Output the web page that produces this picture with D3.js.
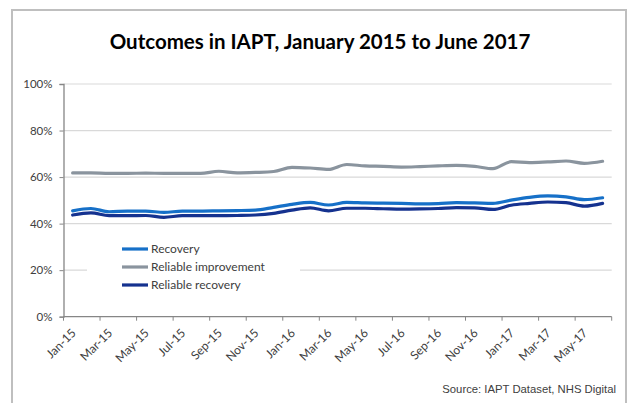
<!DOCTYPE html>
<html>
<head>
<meta charset="utf-8">
<script src="https://cdn.jsdelivr.net/npm/d3@7"></script>
<style>
  html, body { margin: 0; padding: 0; background: #fff; }
  svg { display: block; }
</style>
</head>
<body>
<svg id="chart" width="632" height="403"></svg>
<script>
// ---- data ----
const months = ["Jan-15","Feb-15","Mar-15","Apr-15","May-15","Jun-15","Jul-15","Aug-15","Sep-15","Oct-15","Nov-15","Dec-15",
                "Jan-16","Feb-16","Mar-16","Apr-16","May-16","Jun-16","Jul-16","Aug-16","Sep-16","Oct-16","Nov-16","Dec-16",
                "Jan-17","Feb-17","Mar-17","Apr-17","May-17","Jun-17"];
const recovery = [45.5, 46.5, 45.1, 45.4, 45.4, 44.8, 45.4, 45.4, 45.5, 45.6, 45.8, 47.0,
                  48.3, 49.1, 48.0, 49.1, 48.9, 48.8, 48.7, 48.5, 48.6, 49.0, 48.9, 48.7,
                  50.1, 51.3, 51.9, 51.5, 50.3, 51.1];
const reliableImprovement = [61.8, 61.8, 61.6, 61.6, 61.7, 61.6, 61.6, 61.6, 62.5, 61.8, 62.0, 62.4,
                             64.2, 63.9, 63.3, 65.4, 64.8, 64.6, 64.3, 64.5, 64.8, 65.0, 64.6, 63.6,
                             66.6, 66.2, 66.5, 66.9, 65.9, 66.8];
const reliableRecovery = [43.7, 44.6, 43.4, 43.4, 43.5, 42.7, 43.4, 43.4, 43.4, 43.5, 43.7, 44.4,
                          45.8, 46.8, 45.5, 46.6, 46.6, 46.4, 46.2, 46.3, 46.5, 46.9, 46.8, 46.1,
                          47.9, 48.7, 49.3, 49.0, 47.5, 48.7];
const yTicks = [0, 20, 40, 60, 80, 100];
const xTickLabels = months.filter((m, i) => i % 2 === 0);
const seriesNames = ["Recovery", "Reliable improvement", "Reliable recovery"];
const seriesColors = ["#1670c8", "#8a949e", "#15328f"];
const title = "Outcomes in IAPT, January 2015 to June 2017";
const source = "Source: IAPT Dataset, NHS Digital";

// ---- layout ----
const svg = d3.select("#chart");
const plot = { left: 63.5, right: 611.7, top: 84, bottom: 316.7 };

// outer frame
svg.append("rect").attr("x", 12).attr("y", 10).attr("width", 614).attr("height", 420)
  .attr("fill", "none").attr("stroke", "#bfbfbf").attr("stroke-width", 2);

svg.append("text").attr("x", 320).attr("y", 49).attr("text-anchor", "middle")
  .attr("font-family", "Lato, sans-serif").attr("font-weight", "bold").attr("font-size", 20.5)
  .attr("fill", "#000").text(title);

const x = d3.scaleBand().domain(months).range([plot.left, plot.right]).paddingInner(0).paddingOuter(0);
const xc = m => x(m) + x.bandwidth() / 2;
const y = d3.scaleLinear().domain([0, 100]).range([plot.bottom, plot.top]);

// gridlines
svg.append("g").selectAll("line").data(yTicks.filter(t => t > 0)).join("line")
  .attr("x1", plot.left).attr("x2", plot.right)
  .attr("y1", d => y(d)).attr("y2", d => y(d))
  .attr("stroke", "#d9d9d9").attr("stroke-width", 1.2);

// y axis
const yAxis = d3.axisLeft(y).tickValues(yTicks).tickFormat(d => d + "%").tickSize(4).tickPadding(7);
const gy = svg.append("g").attr("transform", `translate(${plot.left},0)`).call(yAxis);
gy.select(".domain").attr("stroke", "#868686").attr("stroke-width", 1.3);
gy.selectAll(".tick line").attr("stroke", "#868686");
gy.selectAll(".tick text").attr("font-family", "Lato, sans-serif").attr("font-size", 11.5).attr("fill", "#404040");

// x axis line and boundary ticks
svg.append("line").attr("x1", plot.left).attr("x2", plot.right)
  .attr("y1", plot.bottom).attr("y2", plot.bottom).attr("stroke", "#868686").attr("stroke-width", 1.3);
const boundaries = months.filter((m, i) => i % 2 === 0).map(m => x(m)).concat([plot.right]);
svg.append("g").selectAll("line").data(boundaries).join("line")
  .attr("x1", d => d).attr("x2", d => d).attr("y1", plot.bottom).attr("y2", plot.bottom + 4)
  .attr("stroke", "#868686");
svg.append("g").selectAll("text").data(xTickLabels).join("text")
  .attr("transform", d => `translate(${xc(d) + 4},${plot.bottom + 17}) rotate(-45)`)
  .attr("text-anchor", "end")
  .attr("font-family", "Lato, sans-serif").attr("font-size", 12).attr("fill", "#404040")
  .text(d => d);

// lines
const seriesData = [recovery, reliableImprovement, reliableRecovery];
const line = d3.line().x((d, i) => xc(months[i])).y(d => y(d)).curve(d3.curveMonotoneX);
svg.append("g").selectAll("path").data(seriesData).join("path")
  .attr("d", d => line(d)).attr("fill", "none")
  .attr("stroke", (d, i) => seriesColors[i]).attr("stroke-width", 3.2)
  .attr("stroke-linejoin", "round").attr("stroke-linecap", "round");

// legend
const lg = svg.append("g");
lg.append("rect").attr("x", 87).attr("y", 240).attr("width", 213).attr("height", 55).attr("fill", "#fff");
const rows = lg.selectAll("g").data(seriesNames).join("g")
  .attr("transform", (d, i) => `translate(122,${249 + i * 18})`);
rows.append("line").attr("x1", 0).attr("x2", 26).attr("y1", 0).attr("y2", 0)
  .attr("stroke", (d, i) => seriesColors[i]).attr("stroke-width", 3.2);
rows.append("text").attr("x", 29).attr("y", 0).attr("dy", "0.35em")
  .attr("font-family", "Lato, sans-serif").attr("font-size", 12).attr("fill", "#404040")
  .text(d => d);

// source
svg.append("text").attr("x", 616).attr("y", 393).attr("text-anchor", "end")
  .attr("font-family", "'Liberation Sans', Arial, sans-serif").attr("font-size", 11.3).attr("fill", "#404040")
  .text(source);
</script>
</body>
</html>
